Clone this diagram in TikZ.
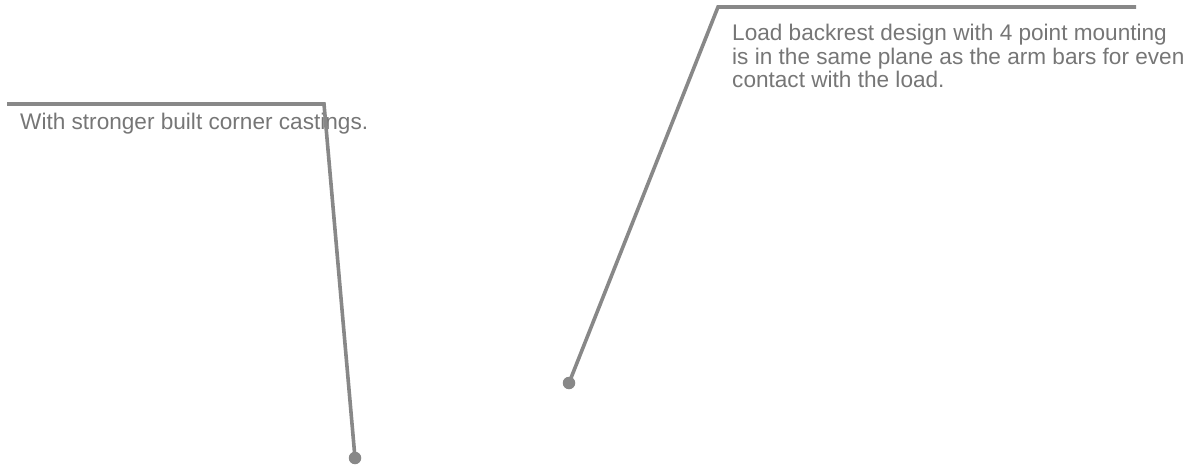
\documentclass[tikz,border=0pt]{standalone}
\usepackage{fontspec}
\setmainfont{Liberation Sans}
\definecolor{leadgray}{RGB}{136,136,136}
\definecolor{notegray}{RGB}{118,118,118}
\begin{document}
\begin{tikzpicture}[x=1pt, y=1pt,
        note/.style={inner sep=0, text=notegray, align=left, font=\fontsize{22.6}{23.5}\selectfont},
        leader/.style={draw=leadgray, line width=3.6pt},
        tip/.style={circle, fill=leadgray, inner sep=0, minimum size=12.5pt}
    ]
        \useasboundingbox (0,0) rectangle (1204,464);

        % Notes
        \node[note, anchor=base west] (castings) at (20, 334) {With stronger built corner castings.};
        \node[note, anchor=north west] (backrest) at (732, 440) {Load backrest design with 4 point mounting\\is in the same plane as the arm bars for even\\contact with the load.};

        % Leader points
        \coordinate (castingsStart) at (7, 360);
        \coordinate (castingsBend) at (324, 360);
        \coordinate (backrestEnd) at (1136, 457);
        \coordinate (backrestBend) at (718, 457);

        % Tips
        \node[tip] (castingsTip) at (355, 6) {};
        \node[tip] (backrestTip) at (569, 81) {};

        % Leaders
        \draw[leader] (castingsStart) -- (castingsBend) -- (castingsTip.center);
        \draw[leader] (backrestEnd) -- (backrestBend) -- (backrestTip.center);
    \end{tikzpicture}
\end{document}
